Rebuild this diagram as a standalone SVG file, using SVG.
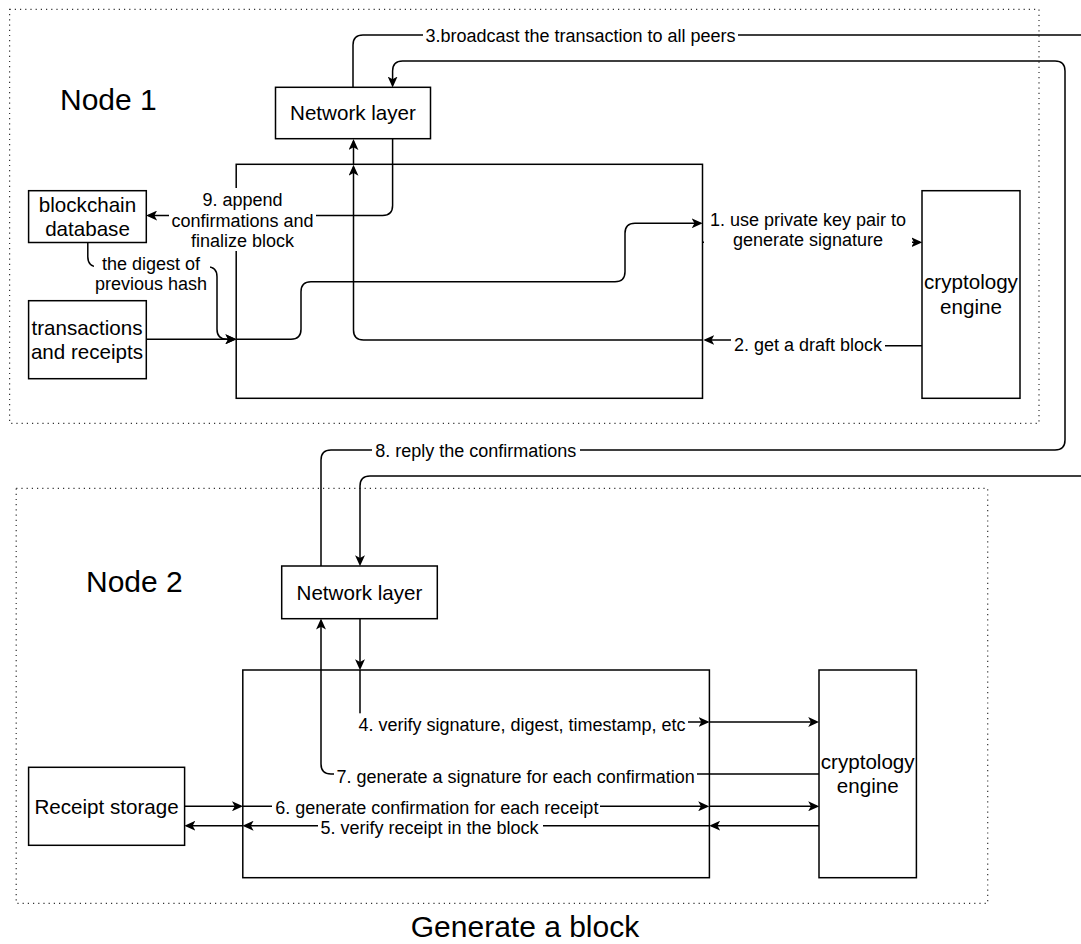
<svg xmlns="http://www.w3.org/2000/svg" width="1081" height="944" viewBox="0 0 1081 944">
<style>
  text { font-family: "Liberation Sans", Arial, Helvetica, sans-serif; fill: #000; }
  .container { fill: none; stroke: #333; stroke-width: 1.2; stroke-dasharray: 1.2 4; }
  .box { fill: #fff; stroke: #000; stroke-width: 1.5; }
  .ntext { font-size: 20.6px; text-anchor: middle; }
  .title { font-size: 30px; }
  .edge { fill: none; stroke: #000; stroke-width: 1.5; }
  .arr { marker-end: url(#arrow); }
  .lblbg { fill: #fff; stroke: none; }
  .lbl { font-size: 18px; text-anchor: middle; }
</style>
<defs>
  <marker id="arrow" viewBox="0 0 10 9" refX="8" refY="4.5" markerWidth="11" markerHeight="10" markerUnits="userSpaceOnUse" orient="auto">
    <path d="M0,0 L10,4.5 L0,9 L2.5,4.5 Z" fill="#000"/>
  </marker>
</defs>
<rect width="1081" height="944" fill="#fff"/>

<g id="node1-container">
  <rect class="container" x="9.6" y="9.3" width="1029.4" height="414"/>
  <text class="title" x="60" y="110">Node 1</text>
</g>
<g id="node2-container">
  <rect class="container" x="16.2" y="488.3" width="971.5" height="415"/>
  <text class="title" x="86" y="591.7">Node 2</text>
</g>

<g id="node1-block"><rect class="box" x="236.2" y="164.3" width="466.3" height="234"/></g>
<g id="node1-network">
  <rect class="box" x="275.5" y="87.3" width="155" height="51.4"/>
  <text class="ntext" x="353" y="120.3">Network layer</text>
</g>
<g id="node1-blockchain-db">
  <rect class="box" x="28.6" y="190.7" width="117.7" height="51.8"/>
  <text class="ntext" x="87.5" y="211.5">blockchain</text>
  <text class="ntext" x="87.5" y="236">database</text>
</g>
<g id="node1-transactions">
  <rect class="box" x="28.6" y="300.7" width="117.7" height="78"/>
  <text class="ntext" x="87" y="334.7">transactions</text>
  <text class="ntext" x="87" y="359.3">and receipts</text>
</g>
<g id="node1-crypto">
  <rect class="box" x="922" y="190.7" width="98" height="207.6"/>
  <text class="ntext" x="971" y="289.4">cryptology</text>
  <text class="ntext" x="971" y="314">engine</text>
</g>

<g id="node2-block"><rect class="box" x="242.8" y="670" width="466.6" height="207.7"/></g>
<g id="node2-network">
  <rect class="box" x="281.7" y="566" width="155.6" height="52.7"/>
  <text class="ntext" x="359.5" y="600">Network layer</text>
</g>
<g id="node2-receipt-storage">
  <rect class="box" x="28.6" y="767.3" width="156" height="78"/>
  <text class="ntext" x="106.6" y="813.5">Receipt storage</text>
</g>
<g id="node2-crypto">
  <rect class="box" x="819" y="670" width="97.4" height="207.7"/>
  <text class="ntext" x="867.7" y="768.7">cryptology</text>
  <text class="ntext" x="867.7" y="793.3">engine</text>
</g>

<g id="connectors">
  <!-- 3. broadcast -->
  <path class="edge arr" d="M353,87.3 V45 Q353,35 363,35 H1095 V476 H370 Q360,476 360,486 V564"/>
  <!-- 8. reply -->
  <path class="edge arr" d="M321,566 V460 Q321,450 331,450 H1055 Q1065,450 1065,440 V71 Q1065,61 1055,61 H402.6 Q392.6,61 392.6,71 V85.3"/>
  <!-- 9. append -->
  <path class="edge arr" d="M392.6,138.7 V205.5 Q392.6,215.5 382.6,215.5 H148.3"/>
  <!-- digest -->
  <path class="edge arr" d="M87.8,242.5 V256.7 Q87.8,266.7 97.8,266.7 H207 Q217,266.7 217,276.7 V329.3 Q217,339.3 227,339.3 H234.2"/>
  <!-- transactions to block -->
  <path class="edge arr" d="M146.3,339.3 H234.2"/>
  <!-- block path to 1 -->
  <path class="edge arr" d="M236.2,339.3 H291 Q301,339.3 301,329.3 V291.7 Q301,281.7 311,281.7 H615 Q625,281.7 625,271.7 V233.3 Q625,223.3 635,223.3 H700.5"/>
  <!-- 1. block to crypto -->
  <path class="edge arr" d="M702.5,242.3 H920"/>
  <!-- 2. crypto to block -->
  <path class="edge arr" d="M922,345.7 H800 V340 H705.5"/>
  <!-- block to network -->
  <path class="edge arr" d="M702.5,340 H363.5 Q353.5,340 353.5,330 V167"/>
  <path class="edge arr" d="M353.5,165 V141.3"/>
  <!-- 4. verify -->
  <path class="edge arr" d="M360,618.7 V668"/>
  <path class="edge arr" d="M360,670 V722 H707.4"/>
  <path class="edge arr" d="M709.4,722 H817"/>
  <!-- 7. signature -->
  <path class="edge arr" d="M819,774 H331 Q321,774 321,764 V620.7"/>
  <!-- 6. confirmation -->
  <path class="edge arr" d="M184.6,806.3 H240.8"/>
  <path class="edge arr" d="M242.8,806.3 H707"/>
  <path class="edge arr" d="M709.4,806.3 H817"/>
  <!-- 5. verify receipt -->
  <path class="edge arr" d="M819,825.7 H711.4"/>
  <path class="edge arr" d="M709.4,825.7 H244.8"/>
  <path class="edge arr" d="M242.8,825.7 H186.6"/>

  <!-- labels -->
  <rect class="lblbg" x="423" y="25" width="315" height="22"/>
  <text class="lbl" x="580.5" y="41.5">3.broadcast the transaction to all peers</text>
  <rect class="lblbg" x="372" y="440" width="208" height="22"/>
  <text class="lbl" x="475.8" y="456.5">8. reply the confirmations</text>
  <rect class="lblbg" x="169" y="188" width="147" height="63"/>
  <text class="lbl" x="242.5" y="206">9. append</text>
  <text class="lbl" x="242.5" y="226.5">confirmations and</text>
  <text class="lbl" x="242.5" y="247">finalize block</text>
  <rect class="lblbg" x="94" y="253" width="116" height="43"/>
  <text class="lbl" x="151" y="269.6">the digest of</text>
  <text class="lbl" x="151" y="290.3">previous hash</text>
  <rect class="lblbg" x="704" y="208" width="208" height="44"/>
  <text class="lbl" x="808" y="225.5">1. use private key pair to</text>
  <text class="lbl" x="808" y="245.8">generate signature</text>
  <rect class="lblbg" x="731" y="334" width="154" height="22"/>
  <text class="lbl" x="808" y="350.5">2. get a draft block</text>
  <rect class="lblbg" x="356" y="713.3" width="332" height="24"/>
  <text class="lbl" x="522" y="730.5">4. verify signature, digest, timestamp, etc</text>
  <rect class="lblbg" x="334" y="764" width="363" height="23"/>
  <text class="lbl" x="515.6" y="782.5">7. generate a signature for each confirmation</text>
  <rect class="lblbg" x="272" y="797" width="328" height="21"/>
  <text class="lbl" x="436.8" y="814">6. generate confirmation for each receipt</text>
  <rect class="lblbg" x="318" y="819" width="225" height="19"/>
  <text class="lbl" x="429.5" y="834">5. verify receipt in the block</text>
</g>

<text class="title" x="525" y="937" text-anchor="middle">Generate a block</text>
</svg>
